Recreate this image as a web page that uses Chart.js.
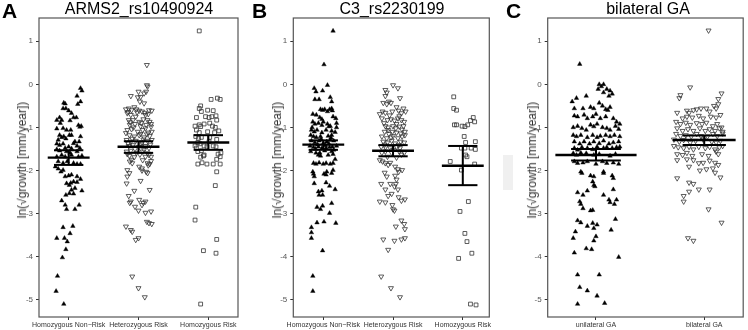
<!DOCTYPE html>
<html><head><meta charset="utf-8">
<script src="https://cdn.jsdelivr.net/npm/chart.js@4"></script>
<style>
body{margin:0;background:#fff;width:748px;height:330px;overflow:hidden;position:relative;font-family:'Liberation Sans',Arial,sans-serif}
canvas{position:absolute;top:0}
.lbl{position:absolute;white-space:nowrap;line-height:1}
.letter{font-weight:bold;font-size:21px;top:0;color:#000}
.title{font-size:16px;top:1px;transform:translateX(-50%);color:#000}
.ytitle{font-size:12px;color:#333;transform:translate(-50%,-50%) rotate(-90deg)}
#ghost{position:absolute;left:503px;top:155px;width:10px;height:35px;background:#f0f0f0}
</style></head><body>
<div id="ghost"></div>
<canvas id="cA" width="245" height="330" style="left:0"></canvas>
<canvas id="cB" width="245" height="330" style="left:250px"></canvas>
<canvas id="cC" width="248" height="330" style="left:500px"></canvas>
<div class="lbl letter" style="left:2px">A</div>
<div class="lbl letter" style="left:252px">B</div>
<div class="lbl letter" style="left:506px">C</div>
<div class="lbl title" style="left:139px">ARMS2_rs10490924</div>
<div class="lbl title" style="left:392px">C3_rs2230199</div>
<div class="lbl title" style="left:648px">bilateral GA</div>
<div class="lbl ytitle" style="left:22px;top:160px">ln(√growth [mm/year])</div>
<div class="lbl ytitle" style="left:277px;top:160px">ln(√growth [mm/year])</div>
<div class="lbl ytitle" style="left:532px;top:160px">ln(√growth [mm/year])</div>
<script>
// ---------- data (x = jitter offset from category centre, y = value) ----------
const yTicks = [-5,-4,-3,-2,-1,0,1];
const catsA = ['Homozygous Non\u2212Risk','Heterozygous Risk','Homozygous Risk'];
const catsB = ['Homozygous Non\u2212Risk','Heterozygous Risk','Homozygous Risk'];
const catsC = ['unilateral GA','bilateral GA'];

const armsNonRisk = [[0.17,-0.09],[0.19,-0.15],[0.12,-0.27],[0.17,-0.40],[0.13,-0.46],[-0.07,-0.43],[-0.05,-0.45],[-0.08,-0.56],[-0.04,-0.56],[0.0,-0.61],[0.04,-0.67],[0.07,-0.77],[0.11,-0.77],[-0.13,-0.77],[-0.17,-0.83],[-0.10,-0.83],[-0.12,-0.90],[0.02,-0.84],[0.14,-0.95],[0.16,-0.99],[0.18,-0.97],[-0.17,-1.03],[-0.08,-1.02],[-0.03,-1.06],[0.03,-1.06],[-0.13,-1.18],[-0.10,-1.23],[-0.07,-1.21],[-0.04,-1.26],[0.01,-1.18],[0.04,-1.18],[-0.15,-1.29],[0.17,-1.21],[0.15,-1.33],[-0.17,-1.38],[-0.13,-1.41],[-0.08,-1.38],[0.07,-1.37],[0.09,-1.33],[0.12,-1.43],[-0.05,-1.48],[0.0,-1.45],[0.04,-1.49],[0.16,-1.48],[-0.17,-1.51],[-0.13,-1.54],[-0.03,-1.56],[0.02,-1.59],[0.12,-1.56],[-0.17,-1.68],[-0.10,-1.64],[-0.05,-1.68],[0.04,-1.64],[0.14,-1.68],[0.19,-1.66],[-0.15,-1.79],[-0.08,-1.83],[-0.02,-1.79],[0.07,-1.83],[0.12,-1.85],[0.17,-1.85],[-0.19,-1.91],[-0.15,-1.96],[-0.08,-1.99],[-0.11,-2.03],[-0.05,-2.14],[0.0,-2.12],[0.04,-2.10],[0.12,-2.14],[0.17,-2.20],[-0.03,-2.30],[0.01,-2.34],[0.03,-2.29],[0.07,-2.26],[0.12,-2.27],[0.04,-2.45],[0.09,-2.41],[0.19,-2.47],[0.01,-2.53],[-0.04,-2.57],[0.07,-2.54],[-0.10,-2.70],[-0.05,-2.80],[-0.03,-2.90],[0.09,-2.90],[0.15,-2.80],[-0.08,-3.32],[0.06,-3.29],[0.02,-3.46],[-0.17,-3.57],[-0.06,-3.57],[-0.02,-3.65],[-0.04,-3.83],[-0.09,-4.02],[-0.16,-4.45],[-0.18,-4.80],[-0.07,-5.10]];

const armsHetero = [[0.12,0.45],[0.12,-0.02],[0.13,-0.05],[0.11,-0.17],[0.08,-0.21],[-0.11,-0.27],[0.0,-0.17],[0.03,-0.29],[-0.01,-0.30],[0.08,-0.44],[0.02,-0.40],
[-0.18,-0.58],[-0.14,-0.56],[-0.10,-0.60],[-0.06,-0.53],[-0.03,-0.58],[0.01,-0.61],[0.05,-0.63],[0.15,-0.60],[0.19,-0.61],
[-0.16,-0.67],[-0.11,-0.71],[-0.04,-0.75],[0.10,-0.71],[0.14,-0.69],[-0.15,-0.64],[-0.02,-0.65],[0.09,-0.66],
[-0.14,-0.83],[-0.08,-0.83],[0.01,-0.87],[0.07,-0.81],[0.13,-0.83],[0.16,-0.87],[-0.12,-0.88],[0.04,-0.90],[0.18,-0.92],
[-0.125,-0.94],[-0.05,-0.92],[0.03,-0.97],[0.11,-0.94],[0.18,-0.98],[-0.07,-1.00],[0.10,-1.02],
[-0.16,-1.06],[-0.10,-1.04],[-0.01,-1.10],[0.06,-1.06],[0.14,-1.12],[0.19,-1.10],[-0.18,-1.13],[0.03,-1.15],[0.12,-1.16],
[-0.13,-1.18],[-0.06,-1.21],[0.01,-1.18],[0.08,-1.23],[0.16,-1.20],[-0.09,-1.26],[0.07,-1.28],
[-0.17,-1.29],[-0.11,-1.33],[-0.04,-1.31],[0.05,-1.35],[0.13,-1.31],[0.19,-1.29],[-0.15,-1.37],[0.04,-1.39],[0.17,-1.40],
[-0.14,-1.43],[-0.08,-1.41],[0.01,-1.45],[0.10,-1.43],[0.15,-1.48],[-0.05,-1.50],[0.08,-1.52],
[-0.17,-1.56],[-0.11,-1.54],[-0.03,-1.59],[0.06,-1.56],[0.13,-1.60],[-0.16,-1.62],[0.02,-1.63],[0.15,-1.64],
[-0.13,-1.66],[-0.06,-1.69],[0.10,-1.68],[0.18,-1.68],[-0.10,-1.75],[0.06,-1.76],[0.18,-1.78],
[-0.125,-1.79],[-0.09,-1.83],[0.01,-1.91],[0.05,-1.95],[0.13,-1.83],[0.16,-1.85],[0.14,-1.88],
[-0.16,-1.99],[-0.13,-2.06],[-0.16,-2.14],[0.11,-2.03],[0.13,-2.06],[0.05,-2.00],
[-0.17,-2.30],[0.03,-2.24],[0.16,-2.45],[-0.06,-2.47],[-0.14,-2.59],[-0.11,-2.72],[-0.125,-2.75],
[0.01,-2.68],[0.07,-2.75],[0.10,-2.72],[0.05,-2.80],[-0.05,-2.84],[0.0,-2.93],[0.10,-2.98],[0.18,-2.95],
[0.12,-3.19],[0.15,-3.22],[0.19,-3.24],[-0.18,-3.30],[-0.11,-3.38],[-0.09,-3.42],[-0.04,-3.61],[0.0,-3.57],
[-0.09,-4.46],[0.0,-4.73],[0.09,-4.94]];

const armsHomRisk = [[-0.13,1.24],[0.04,-0.35],[0.13,-0.32],[0.17,-0.35],[-0.11,-0.50],[-0.13,-0.56],[-0.10,-0.63],[-0.01,-0.60],[0.07,-0.61],[-0.04,-0.75],[0.01,-0.77],[0.05,-0.75],[0.11,-0.73],[-0.17,-0.77],[0.12,-0.83],[-0.19,-0.97],[-0.13,-0.94],[-0.11,-0.98],[-0.06,-0.92],[0.02,-0.90],[0.06,-0.97],[0.10,-1.00],[-0.17,-1.06],[-0.13,-1.12],[-0.01,-1.10],[0.15,-1.08],[0.09,-1.12],[-0.18,-1.21],[-0.14,-1.25],[-0.10,-1.23],[0.02,-1.23],[0.12,-1.28],[-0.15,-1.35],[-0.12,-1.38],[-0.06,-1.43],[0.07,-1.43],[0.01,-1.33],[-0.19,-1.43],[-0.17,-1.48],[-0.02,-1.45],[0.11,-1.45],[-0.15,-1.56],[-0.10,-1.54],[-0.07,-1.66],[-0.11,-1.69],[-0.06,-1.64],[0.14,-1.62],[0.18,-1.59],[0.17,-1.68],[-0.15,-1.85],[-0.09,-1.82],[-0.02,-1.85],[0.07,-1.85],[0.12,-1.74],[0.17,-1.85],[0.12,-2.03],[0.10,-2.35],[-0.18,-2.85],[-0.19,-3.15],[0.12,-3.60],[-0.07,-3.86],[0.11,-3.92],[-0.11,-5.10]];

const c3NonRisk = [[0.14,1.24],[0.01,0.46],[0.06,-0.02],[-0.13,-0.09],[-0.105,-0.17],[-0.01,-0.15],[-0.12,-0.35],[-0.06,-0.35],[0.10,-0.30],[0.12,-0.40],
[-0.04,-0.58],[-0.01,-0.60],[0.02,-0.58],[0.09,-0.58],[0.12,-0.56],[0.06,-0.63],[0.13,-0.61],
[-0.15,-0.69],[-0.10,-0.71],[-0.05,-0.77],[-0.02,-0.81],[0.14,-0.75],[0.18,-0.79],
[-0.15,-0.87],[-0.12,-0.92],[-0.07,-0.90],[0.0,-0.87],[0.06,-0.92],[0.10,-0.97],[0.19,-0.90],[0.19,-1.00],[-0.16,-1.00],[0.08,-0.98],[-0.02,-0.95],
[-0.17,-1.06],[-0.13,-1.10],[-0.09,-1.06],[-0.02,-1.12],[0.04,-1.06],[0.12,-1.08],[0.17,-1.11],
[-0.18,-1.18],[-0.14,-1.21],[-0.10,-1.23],[-0.04,-1.21],[0.07,-1.20],[0.12,-1.18],[-0.03,-1.27],[0.11,-1.24],
[-0.17,-1.31],[-0.12,-1.35],[-0.06,-1.31],[0.0,-1.37],[0.05,-1.33],[0.10,-1.29],[0.15,-1.31],[-0.08,-1.40],[0.03,-1.42],[0.08,-1.38],
[-0.19,-1.43],[-0.14,-1.46],[-0.07,-1.45],[-0.02,-1.48],[0.04,-1.48],[0.09,-1.46],[0.13,-1.45],[0.19,-1.43],[-0.11,-1.50],[0.15,-1.52],
[-0.18,-1.56],[-0.105,-1.59],[-0.05,-1.59],[0.02,-1.54],[0.12,-1.56],
[-0.07,-1.64],[-0.04,-1.66],[0.07,-1.64],[0.14,-1.62],
[-0.14,-1.83],[-0.105,-1.85],[-0.06,-1.82],[0.0,-1.85],[0.04,-1.83],[0.10,-1.85],[0.14,-1.83],[0.17,-1.74],
[-0.15,-2.03],[-0.14,-2.08],[-0.13,-2.14],[-0.13,-2.30],[0.01,-2.08],[0.04,-2.10],[0.05,-2.03],[0.12,-2.06],[0.14,-1.99],
[0.04,-2.28],[0.09,-2.36],[-0.07,-2.49],[-0.02,-2.47],[-0.06,-2.57],[-0.01,-2.57],[0.17,-2.44],
[-0.09,-2.85],[-0.04,-2.90],[-0.01,-2.82],[0.12,-2.76],[0.09,-2.99],
[-0.09,-3.21],[0.01,-3.19],[0.18,-3.22],[-0.17,-3.32],[-0.17,-3.44],[-0.17,-3.57],
[-0.01,-3.86],[-0.15,-4.45],[-0.15,-4.80]];

const c3Hetero = [[0.0,-0.02],[0.07,-0.09],[-0.11,-0.13],[-0.09,-0.19],[-0.11,-0.27],[0.10,-0.32],
[-0.14,-0.43],[-0.09,-0.46],[-0.06,-0.40],[-0.03,-0.43],[0.05,-0.53],[0.15,-0.56],[0.18,-0.63],
[-0.19,-0.69],[-0.15,-0.63],[-0.11,-0.66],[-0.01,-0.63],[0.08,-0.61],[0.12,-0.67],[-0.05,-0.72],[0.09,-0.74],
[-0.16,-0.79],[-0.08,-0.83],[-0.03,-0.81],[0.02,-0.84],[0.07,-0.79],[0.12,-0.83],[0.16,-0.87],[-0.13,-0.90],[0.05,-0.92],
[-0.11,-0.97],[-0.07,-1.00],[0.0,-0.97],[0.04,-1.02],[0.09,-0.98],[0.15,-0.97],[0.13,-1.05],
[-0.12,-1.10],[-0.07,-1.06],[-0.01,-1.10],[0.05,-1.12],[0.11,-1.14],[0.17,-1.10],[-0.06,-1.15],
[-0.16,-1.21],[-0.09,-1.25],[-0.03,-1.23],[0.0,-1.20],[0.07,-1.25],[0.13,-1.21],[0.17,-1.18],
[-0.14,-1.33],[-0.08,-1.35],[-0.02,-1.31],[0.03,-1.37],[0.11,-1.33],[0.16,-1.35],[-0.12,-1.40],[0.08,-1.41],
[-0.17,-1.45],[-0.11,-1.46],[-0.04,-1.48],[0.05,-1.45],[0.10,-1.48],[0.0,-1.52],
[-0.16,-1.59],[-0.11,-1.56],[-0.02,-1.59],[0.09,-1.56],[0.16,-1.59],[0.12,-1.63],[-0.08,-1.68],[0.05,-1.70],
[-0.19,-1.76],[-0.15,-1.79],[-0.11,-1.83],[-0.07,-1.87],[-0.04,-1.82],
[0.03,-1.91],[0.07,-1.97],[0.13,-1.99],[0.08,-2.03],
[-0.12,-2.05],[-0.09,-2.14],[-0.17,-2.31],[-0.11,-2.44],[-0.04,-2.31],
[0.03,-2.12],[0.05,-2.21],[0.04,-2.31],[0.02,-2.37],[0.07,-2.44],
[-0.02,-2.54],[-0.07,-2.59],[0.08,-2.62],[0.12,-2.70],[0.17,-2.67],
[-0.01,-2.80],[0.0,-2.90],[0.02,-2.93],[-0.19,-2.72],[-0.11,-2.74],
[0.12,-3.16],[0.16,-3.24],[0.17,-3.36],[0.04,-3.30],
[-0.14,-3.60],[0.02,-3.63],[0.12,-3.60],[0.17,-3.57],
[-0.07,-3.84],[-0.17,-4.46],[-0.03,-4.73],[0.10,-4.94]];

const c3HomRisk = [[-0.13,-0.29],[-0.13,-0.56],[-0.09,-0.60],[-0.12,-0.94],[-0.09,-0.94],[-0.01,-0.97],[0.03,-0.98],[0.07,-0.94],[0.11,-0.84],[0.15,-0.77],[0.17,-0.87],[0.02,-1.21],[0.18,-1.33],[0.04,-1.35],[-0.02,-1.48],[0.03,-1.48],[0.12,-1.48],[0.18,-1.51],[0.04,-1.64],[0.06,-1.68],[-0.18,-1.79],[0.17,-1.85],[-0.02,-1.99],[0.08,-2.72],[-0.04,-2.95],[0.03,-3.46],[0.06,-3.65],[0.13,-3.92],[-0.06,-4.04],[0.11,-5.10],[0.19,-5.12]];

const gaUnilateral = [[-0.15,0.47],[0.03,0.0],[0.07,0.0],[0.05,-0.05],[0.10,-0.11],[0.13,-0.15],[0.15,-0.22],[0.02,-0.11],[0.07,-0.19],[0.12,-0.27],
[-0.22,-0.40],[-0.18,-0.32],[-0.09,-0.27],
[-0.20,-0.56],[-0.12,-0.56],[-0.05,-0.53],[-0.02,-0.56],[0.03,-0.43],[0.06,-0.50],[0.09,-0.58],[0.11,-0.60],[0.13,-0.53],
[-0.20,-0.73],[-0.17,-0.75],[-0.11,-0.71],[-0.08,-0.79],[-0.03,-0.75],[0,-0.69],[0.04,-0.79],[0.09,-0.75],[0.16,-0.79],[0.19,-0.87],[0.22,-0.92],
[-0.21,-1.0],[-0.17,-0.97],[-0.13,-1.02],[-0.09,-1.06],[-0.05,-0.94],[-0.02,-0.98],[0.01,-0.92],[0.06,-1.0],[0.10,-1.02],[0.13,-1.06],[0.18,-0.97],[0.21,-1.04],
[-0.21,-1.18],[-0.18,-1.21],[-0.14,-1.18],[-0.08,-1.23],[-0.03,-1.18],[0.01,-1.23],[0.04,-1.20],[0.09,-1.18],[0.13,-1.21],[0.17,-1.18],[0.22,-1.21],
[-0.20,-1.33],[-0.15,-1.38],[-0.11,-1.33],[-0.06,-1.38],[-0.02,-1.33],[0.03,-1.37],[0.07,-1.31],[0.12,-1.38],[0.16,-1.35],[0.21,-1.33],
[-0.20,-1.48],[-0.17,-1.52],[-0.13,-1.46],[-0.08,-1.48],[-0.03,-1.51],[0.01,-1.45],[0.07,-1.48],[0.10,-1.46],[0.15,-1.48],[0.19,-1.46],[0.22,-1.45],
[-0.21,-1.60],[-0.18,-1.64],[-0.14,-1.59],[-0.09,-1.60],[-0.02,-1.64],[0.03,-1.62],[0.13,-1.66],[0.18,-1.62],
[-0.20,-1.79],[-0.17,-1.83],[-0.12,-1.82],[-0.08,-1.79],[0,-1.85],[0.06,-1.79],[0.10,-1.83],[0.16,-1.82],[0.21,-1.85],
[-0.14,-2.03],[-0.13,-2.06],[-0.05,-2.12],[-0.02,-2.14],[0.07,-2.03],[0.07,-2.06],[0.15,-2.12],[0.16,-2.18],
[-0.03,-2.26],[-0.02,-2.34],[-0.01,-2.37],
[-0.17,-2.51],[-0.12,-2.57],[-0.08,-2.47],[0.07,-2.57],[0.16,-2.44],
[-0.15,-2.72],[-0.14,-2.78],[0.12,-2.68],[0.13,-2.74],[0.17,-2.78],[0.19,-2.68],
[-0.12,-2.88],[-0.05,-2.93],[-0.03,-2.92],
[-0.17,-3.16],[-0.14,-3.21],[-0.08,-3.29],[-0.03,-3.22],[0.01,-3.26],[-0.02,-3.34],[0.18,-3.13],[0.14,-3.38],
[-0.19,-3.42],[-0.21,-3.57],[0,-3.53],[-0.02,-3.63],
[-0.20,-3.91],[-0.09,-3.81],[-0.04,-3.83],[0.21,-4.01],
[-0.17,-4.42],[0.03,-4.42],[-0.15,-4.71],[-0.08,-4.79],[0.01,-4.91],[-0.17,-5.10],[0.08,-5.08]];

const gaBilateral = [[0.04,1.25],[-0.13,-0.07],[-0.22,-0.25],[-0.23,-0.32],[0.16,-0.21],[0.13,-0.34],[0.13,-0.46],
[-0.07,-0.58],[-0.03,-0.56],[0.02,-0.56],[0.09,-0.50],[0.11,-0.56],[0.05,-0.63],
[-0.25,-0.66],[-0.16,-0.61],[-0.14,-0.66],[-0.10,-0.60],
[-0.20,-0.79],[-0.16,-0.75],[-0.11,-0.77],[-0.05,-0.73],[-0.01,-0.79],[0.06,-0.75],[0.11,-0.77],[0.15,-0.71],
[-0.26,-0.87],[-0.22,-0.92],[-0.17,-0.89],[-0.13,-0.94],[-0.07,-0.90],[-0.02,-0.92],[0.02,-0.89],[0.08,-0.97],[0.12,-0.92],[0.16,-1.00],
[-0.25,-1.02],[-0.20,-1.08],[-0.15,-1.04],[-0.10,-1.08],[-0.04,-1.02],[0.01,-1.08],[0.05,-1.04],[0.10,-1.08],[0.14,-1.02],[0.17,-1.10],
[-0.26,-1.15],[-0.22,-1.20],[-0.17,-1.18],[-0.12,-1.21],[-0.07,-1.15],[-0.03,-1.20],[0.03,-1.21],[0.08,-1.15],[0.12,-1.20],[0.17,-1.14],
[-0.28,-1.28],[-0.23,-1.33],[-0.19,-1.29],[-0.13,-1.35],[-0.08,-1.31],[-0.01,-1.28],[0.07,-1.33],[0.11,-1.35],[0.15,-1.31],
[-0.28,-1.43],[-0.24,-1.46],[-0.19,-1.48],[-0.14,-1.45],[-0.10,-1.51],[-0.05,-1.45],[0.01,-1.48],[0.05,-1.45],[0.10,-1.51],[0.14,-1.46],[0.17,-1.43],
[-0.25,-1.62],[-0.20,-1.64],[-0.16,-1.59],[-0.11,-1.66],[-0.02,-1.62],[0.04,-1.66],[0.11,-1.56],[0.13,-1.62],
[-0.25,-1.76],[-0.16,-1.74],[-0.10,-1.76],[-0.05,-1.83],[-0.01,-1.82],[0.05,-1.77],[0.10,-1.82],[0.13,-1.87],
[-0.14,-1.91],[-0.04,-2.0],[0.02,-1.97],[0.08,-1.95],[0.10,-2.05],
[-0.25,-2.18],[-0.14,-2.28],[-0.10,-2.31],[-0.05,-2.44],[-0.14,-2.49],[-0.19,-2.59],[0.05,-2.44],[0.15,-2.16],
[-0.19,-2.72],[0.04,-2.90],[0.16,-3.21],[-0.15,-3.57],[-0.10,-3.63]];

// group means with lower / upper error bar ends
const meansA = [-1.70,-1.45,-1.35], lowA = [-1.87,-1.59,-1.52], highA = [-1.53,-1.32,-1.18];
const meansB = [-1.40,-1.54,-1.89], lowB = [-1.52,-1.67,-2.34], highB = [-1.30,-1.41,-1.43];
const meansC = [-1.64,-1.29], lowC = [-1.77,-1.41], highC = [-1.50,-1.19];

// ---------- rendering ----------
const FONT = "'Liberation Sans', Arial, sans-serif";
const styles = [
  {pointStyle:'triangle', pointRadius:2.6, pointRotation:0, pointBackgroundColor:'#000', pointBorderColor:'#000', pointBorderWidth:0.4},
  {pointStyle:'triangle', pointRadius:2.9, pointRotation:180, pointBackgroundColor:'rgba(0,0,0,0)', pointBorderColor:'#333', pointBorderWidth:0.8},
  {pointStyle:'rect', pointRadius:2.7, pointRotation:0, pointBackgroundColor:'rgba(0,0,0,0)', pointBorderColor:'#333', pointBorderWidth:0.8}
];

const summaryPlugin = {
  id:'summary',
  afterDatasetsDraw(chart, args, o){
    const {ctx, chartArea:a} = chart; const x = chart.scales.x, y = chart.scales.y;
    ctx.save(); ctx.strokeStyle = '#000'; ctx.lineCap = 'butt';
    o.means.forEach((m,i)=>{
      const c = i+1, px = x.getPixelForValue(c);
      ctx.lineWidth = 2;
      ctx.beginPath(); ctx.moveTo(px, y.getPixelForValue(o.low[i])); ctx.lineTo(px, y.getPixelForValue(o.high[i])); ctx.stroke();
      [o.low[i], o.high[i]].forEach(v=>{
        ctx.beginPath(); ctx.moveTo(x.getPixelForValue(c-o.cap[i]), y.getPixelForValue(v));
        ctx.lineTo(x.getPixelForValue(c+o.cap[i]), y.getPixelForValue(v)); ctx.stroke();
      });
      ctx.lineWidth = 2.4;
      ctx.beginPath(); ctx.moveTo(x.getPixelForValue(c-o.half[i]), y.getPixelForValue(m));
      ctx.lineTo(x.getPixelForValue(c+o.half[i]), y.getPixelForValue(m)); ctx.stroke();
    });
    ctx.strokeStyle = '#555'; ctx.lineWidth = 1.2;
    ctx.strokeRect(a.left, a.top, a.right-a.left, a.bottom-a.top);
    ctx.restore();
  }
};

function makePanel(id, cats, groups, means, low, high, xr, padL, padR, half, cap){
  const datasets = groups.map((g,i)=>Object.assign({
    data: g.map(p=>({x:i+1+p[0], y:p[1]})), showLine:false
  }, styles[i]));
  new Chart(document.getElementById(id), {
    type:'scatter',
    data:{datasets},
    plugins:[summaryPlugin],
    options:{
      responsive:false, animation:false, devicePixelRatio:1, events:[],
      layout:{padding:{left:padL, right:padR, top:18, bottom:0}},
      plugins:{legend:{display:false}, tooltip:{enabled:false}, title:{display:false},
        summary:{means, low, high, half, cap}},
      scales:{
        x:{type:'linear', min:xr[0], max:xr[1],
          afterBuildTicks:s=>{ s.ticks = cats.map((c,i)=>({value:i+1})); },
          afterFit:s=>{ s.height = 13; s.paddingLeft = 0; s.paddingRight = 0; },
          ticks:{callback:(v,i)=>cats[i], font:{size:7, family:FONT}, color:'#333', maxRotation:0, minRotation:0, autoSkip:false, padding:1},
          grid:{drawOnChartArea:false, drawTicks:true, tickLength:3, color:'#333'},
          border:{display:false}},
        y:{min:-5.4, max:1.54,
          afterBuildTicks:s=>{ s.ticks = yTicks.map(v=>({value:v})); },
          afterFit:s=>{ s.width = 20; s.paddingTop = 0; s.paddingBottom = 0; },
          ticks:{font:{size:8, family:FONT}, color:'#555', padding:3},
          grid:{drawOnChartArea:false, drawTicks:true, tickLength:3, color:'#333'},
          border:{display:false}}
      }
    }
  });
}

makePanel('cA', catsA, [armsNonRisk, armsHetero, armsHomRisk], meansA, lowA, highA, [0.575,3.425], 19, 7, [0.3,0.3,0.3], [0.21,0.21,0.21]);
makePanel('cB', catsB, [c3NonRisk, c3Hetero, c3HomRisk], meansB, lowB, highB, [0.57,3.38], 23.3, 5.7, [0.3,0.3,0.3], [0.21,0.21,0.21]);
makePanel('cC', catsC, [gaUnilateral, gaBilateral], meansC, lowC, highC, [0.554,2.36], 27.7, 0.7, [0.375,0.29], [0.23,0.2]);
</script>
</body></html>
